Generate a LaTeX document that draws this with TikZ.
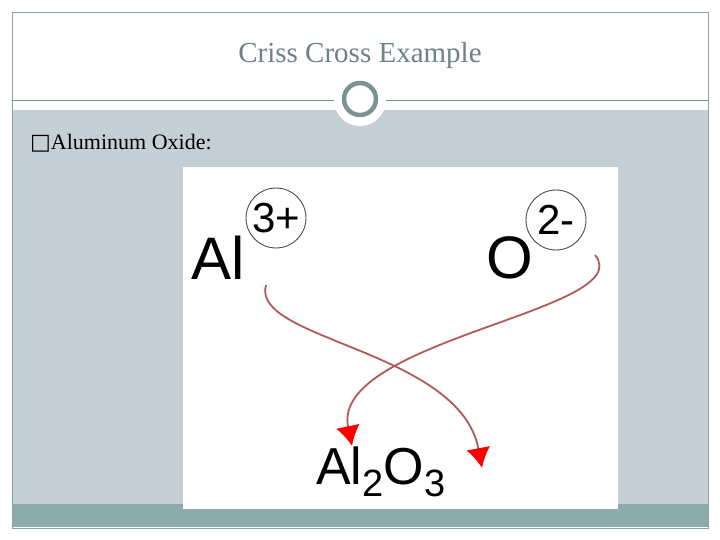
\documentclass[tikz,border=0pt]{standalone}
\usepackage{fontspec}
\usetikzlibrary{arrows.meta}
\setmainfont{Liberation Serif}
\newfontfamily\arfnt{Liberation Sans}
\newfontfamily\djvfnt{DejaVu Sans}
\begin{document}
\begin{tikzpicture}[x=1pt,y=-1pt,
  chem/.style={font=\arfnt\fontsize{60}{60}\selectfont,inner sep=0},
  chg/.style={circle,draw=black!70,line width=0.9pt,minimum size=60pt,inner sep=0,font=\arfnt\fontsize{42}{42}\selectfont},
  arr/.style={draw=red!55!black!65,line width=1.8pt,-{Latex[length=20pt,width=24pt,red]}}]
\useasboundingbox (0,0) rectangle (720,540);
\fill[white] (0,0) rectangle (720,540);
\fill[color={rgb,255:red,197;green,208;blue,214}] (12,110) rectangle (708,504);
\fill[color={rgb,255:red,139;green,171;blue,172}] (12,504) rectangle (708,527);
\draw[color={rgb,255:red,139;green,160;blue,160},line width=0.8pt] (12,12) rectangle (708,528);
\draw[color={rgb,255:red,120;green,145;blue,145},line width=0.8pt] (12,100) -- (708,100);
\fill[white] (360,100) circle (26);
\node[circle,draw={rgb,255:red,122;green,146;blue,146},line width=4.5pt,minimum size=32pt,fill=white] (ring) at (360,99) {};
\node[text={rgb,255:red,110;green,130;blue,135},font=\fontsize{29}{29}\selectfont] (title) at (360,56) {Criss Cross Example};
\node[anchor=west,font=\fontsize{22}{22}\selectfont,inner sep=0] (sub) at (30,143) {{\djvfnt\symbol{"25A1}}Aluminum Oxide:};
\fill[white] (183,167) rectangle (618,509);
\node[chem] (al) at (218,258) {Al};
\node[chem] (o) at (510,258) {O};
\node[chg] (c3) at (276,218) {3+};
\node[chg] (c2) at (556,220) {2-};
\node[chem,anchor=west,font=\arfnt\fontsize{52}{52}\selectfont] (prod) at (316,472) {Al\raisebox{-12pt}{\fontsize{38}{38}\selectfont 2}O\raisebox{-12pt}{\fontsize{38}{38}\selectfont 3}};
\coordinate (a1) at (266,285);
\coordinate (a2) at (482,468);
\coordinate (o1) at (595,255);
\coordinate (o2) at (352,446);
\draw[arr] (a1) .. controls (250,340) and (460,350) .. (a2);
\draw[arr] (o1) .. controls (640,310) and (330,340) .. (o2);
\end{tikzpicture}
\end{document}
